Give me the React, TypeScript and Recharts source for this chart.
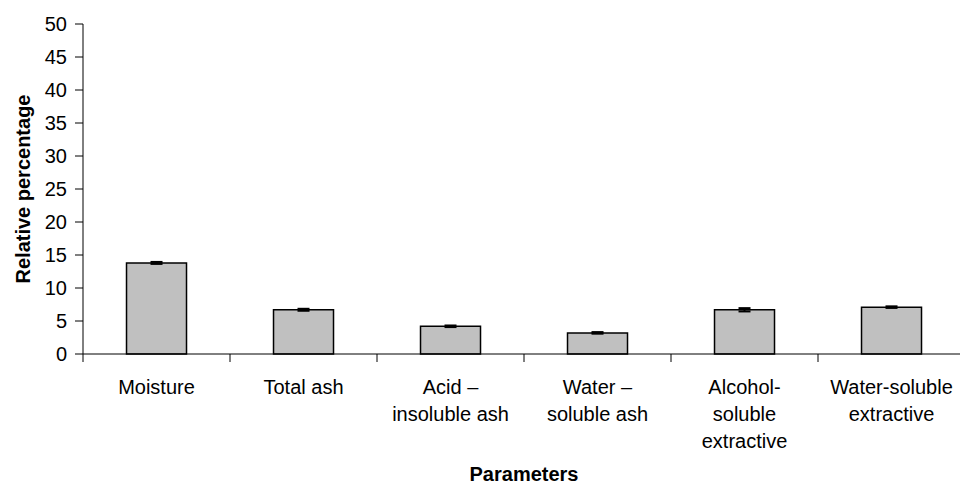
import { BarChart, Bar, XAxis, YAxis, ErrorBar, Label } from "recharts";

const categories = [
  "Moisture",
  "Total ash",
  "Acid – insoluble ash",
  "Water – soluble ash",
  "Alcohol-soluble extractive",
  "Water-soluble extractive",
];
const tickLines = [
  ["Moisture"],
  ["Total ash"],
  ["Acid –", "insoluble ash"],
  ["Water –", "soluble ash"],
  ["Alcohol-", "soluble", "extractive"],
  ["Water-soluble", "extractive"],
];
const values = [13.8, 6.7, 4.2, 3.2, 6.7, 7.1];
const errors = [0.15, 0.15, 0.12, 0.12, 0.25, 0.12];
const yTicks = [0, 5, 10, 15, 20, 25, 30, 35, 40, 45, 50];

const data = categories.map((name, i) => ({
  name,
  value: values[i],
  err: errors[i],
}));

const font = "'Liberation Sans', Arial, sans-serif";

function CategoryTick(props: any) {
  const { x, y, payload, index } = props;
  const half = payload.offset ?? 73.5;
  const lines = tickLines[index] ?? [payload.value];
  return (
    <g>
      <line x1={x - half} y1={y - 8} x2={x - half} y2={y} stroke="#000" />
      <text
        x={x}
        y={y}
        textAnchor="middle"
        fontSize={20}
        fontFamily={font}
        fill="#000"
      >
        {lines.map((l: string, k: number) => (
          <tspan key={k} x={x} dy={k === 0 ? 32 : 27}>
            {l}
          </tspan>
        ))}
      </text>
    </g>
  );
}

export default function App() {
  return (
    <div
      style={{
        position: "absolute",
        left: 0,
        top: 0,
        width: 960,
        height: 486,
        overflow: "hidden",
        background: "#fff",
      }}
    >
      <BarChart
        width={980}
        height={486}
        data={data}
        margin={{ top: 24, right: 15, left: 23, bottom: 0 }}
        barCategoryGap="29.6%"
      >
        <XAxis
          dataKey="name"
          axisLine={{ stroke: "#000" }}
          tickLine={false}
          tick={<CategoryTick />}
          interval={0}
          height={132}
        >
          <Label
            value="Parameters"
            position="insideTop"
            offset={113}
            style={{ fontFamily: font, fontSize: 20, fontWeight: "bold", fill: "#000" }}
          />
        </XAxis>
        <YAxis
          domain={[0, 50]}
          ticks={yTicks}
          interval={0}
          width={60}
          axisLine={{ stroke: "#000" }}
          tickLine={{ stroke: "#000" }}
          tickSize={8}
          tickMargin={8}
          tick={{ fontSize: 20, fontFamily: font, fill: "#000" }}
        >
          <Label
            value="Relative percentage"
            angle={-90}
            position="insideLeft"
            offset={0}
            style={{
              fontFamily: font,
              fontSize: 20,
              fontWeight: "bold",
              fill: "#000",
              textAnchor: "middle",
            }}
          />
        </YAxis>
        <Bar
          dataKey="value"
          fill="#c0c0c0"
          stroke="#000"
          strokeWidth={1.5}
          isAnimationActive={false}
        >
          <ErrorBar dataKey="err" width={6} stroke="#000" strokeWidth={2} />
        </Bar>
      </BarChart>
    </div>
  );
}
